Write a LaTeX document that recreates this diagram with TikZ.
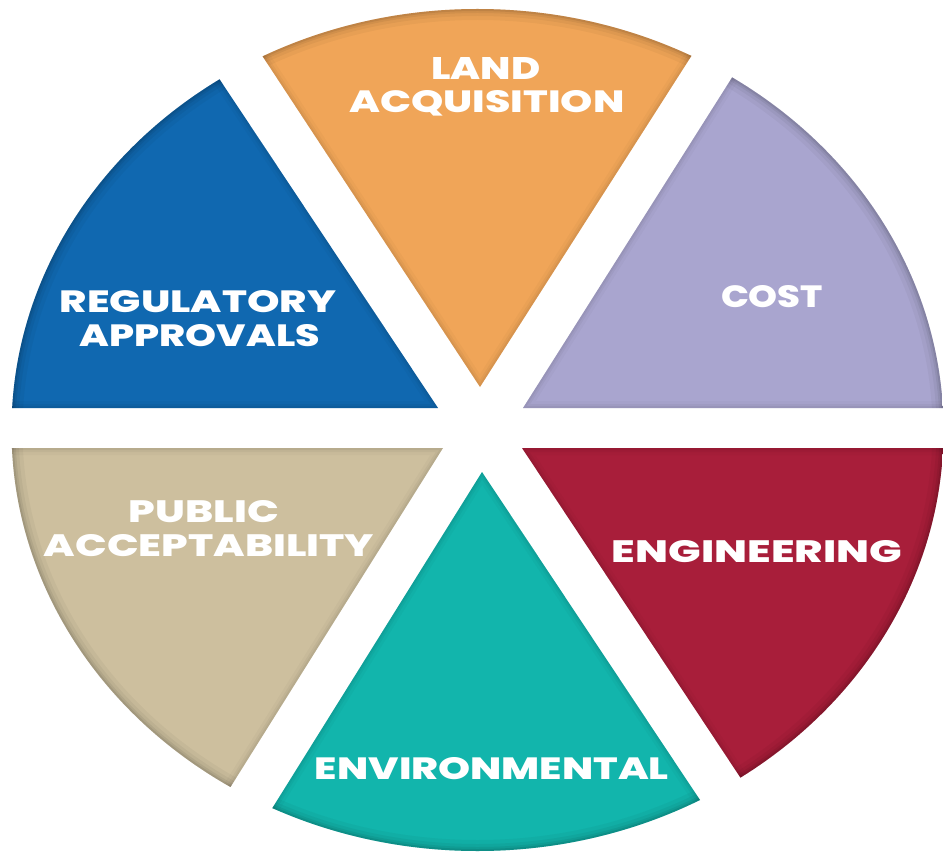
\documentclass[tikz,border=0pt]{standalone}
\usepackage{fontspec}
\usepackage{graphicx}
\newfontfamily\lblfont{Poppins}[UprightFont={* ExtraBold}]
\definecolor{cblue}{RGB}{16,104,176}
\definecolor{corange}{RGB}{240,165,88}
\definecolor{cpurple}{RGB}{169,165,207}
\definecolor{cred}{RGB}{168,30,58}
\definecolor{cteal}{RGB}{18,181,172}
\definecolor{ctan}{RGB}{205,191,158}
\newcommand\lblbox[2]{\resizebox{#1pt}{22pt}{\lblfont #2}}
\newcommand\wedgeshape[2]{%
  \begin{scope}
    \clip #2;
    \clip (C) ellipse [x radius=466pt, y radius=421pt];
    \fill[#1] (-10,-10) rectangle (960,870);
    \foreach \w/\o in {14/0.025,8/0.035,4/0.045}{
      \draw[black, opacity=\o, line width=\w pt] #2;
    }
    \foreach \w/\o in {22/0.035,14/0.045,8/0.06,4/0.08}{
      \draw[black, opacity=\o, line width=\w pt] (C) ellipse [x radius=466pt, y radius=421pt];
    }
  \end{scope}}
\tikzset{lbl/.style={text=white, inner sep=0pt, anchor=center}}
\begin{document}
\begin{tikzpicture}[x=1pt, y=-1pt]
  \useasboundingbox (0,0) rectangle (943,853);
  \fill[white] (0,0) rectangle (943,853);
  \coordinate (C) at (477.5,430);
  % wedges
  \wedgeshape{cblue}{(438,408) -- (6,-242) -- (-200,-242) -- (-200,408) -- cycle}
  \wedgeshape{corange}{(480,387) -- (50,-267) -- (904,-277) -- cycle}
  \wedgeshape{cpurple}{(523,408) -- (943,-256) -- (1200,-256) -- (1200,408) -- cycle}
  \wedgeshape{cred}{(522,448) -- (1200,448) -- (1200,1112) -- (962,1112) -- cycle}
  \wedgeshape{cteal}{(482,472) -- (918,1128) -- (64,1142) -- cycle}
  \wedgeshape{ctan}{(443,448) -- (23,1118) -- (-200,1118) -- (-200,448) -- cycle}
  % labels
  \node[lbl] (land) at (486,68) {\lblbox{109}{LAND}};
  \node[lbl] (acq) at (487,103) {\lblbox{275}{ACQUISITION}};
  \node[lbl] (reg) at (198,302) {\lblbox{276}{REGULATORY}};
  \node[lbl] (app) at (200,336) {\lblbox{240}{APPROVALS}};
  \node[lbl] (cost) at (772,297) {\lblbox{102}{COST}};
  \node[lbl] (pub) at (204,512) {\lblbox{150}{PUBLIC}};
  \node[lbl] (acc) at (209,546) {\lblbox{330}{ACCEPTABILITY}};
  \node[lbl] (eng) at (757,552) {\lblbox{290}{ENGINEERING}};
  \node[lbl] (env) at (492,769) {\lblbox{354}{ENVIRONMENTAL}};
\end{tikzpicture}
\end{document}
